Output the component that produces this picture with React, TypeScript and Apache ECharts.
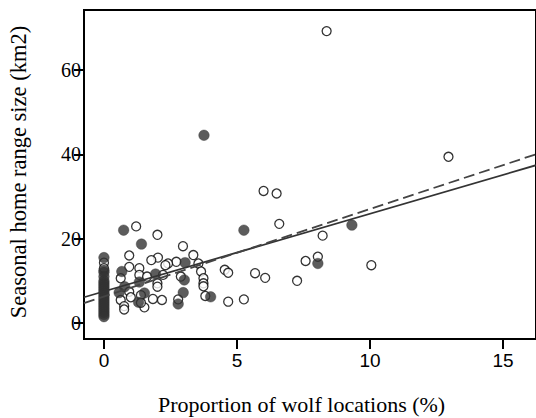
import React, { useEffect, useRef } from "react";
import * as echarts from "echarts";

// Open circles (one group)
const openPoints: [number, number][] = [
  [8.37, 69.2], [12.95, 39.4], [6.0, 31.3], [6.49, 30.7], [6.59, 23.5], [8.22, 20.7],
  [7.58, 14.7], [8.04, 15.7], [10.05, 13.7], [7.26, 10.0], [5.68, 11.8], [6.06, 10.7],
  [4.54, 12.6], [4.67, 11.9], [4.67, 5.05], [5.26, 5.6], [3.36, 16.1], [2.97, 18.2],
  [3.55, 14.1], [3.65, 12.2], [3.74, 10.6], [3.74, 9.4], [3.74, 8.7], [3.81, 6.4],
  [2.72, 14.5], [2.41, 14.1], [2.89, 11.0], [2.79, 5.6], [1.21, 22.9], [2.01, 20.9],
  [0.95, 16.0], [2.03, 15.5], [1.78, 14.9], [0.95, 13.3], [1.33, 13.0], [2.31, 13.7],
  [0.63, 10.6], [1.33, 11.4], [1.62, 11.0], [2.22, 11.4], [2.01, 9.4], [2.01, 8.6],
  [0.95, 7.4], [0.63, 5.45], [0.76, 4.0], [0.76, 3.2], [1.01, 6.1], [1.39, 6.6],
  [1.84, 5.7], [2.18, 5.45], [1.52, 3.7], [1.39, 4.8], [0, 14.3], [0, 13.0],
];

// Filled circles (other group)
const filledPoints: [number, number][] = [
  [0, 15.5], [0, 12.5], [0, 12.0], [0, 11.0], [0, 10.0], [0, 9.5], [0, 9.0], [0, 8.5],
  [0, 8.0], [0, 7.5], [0, 7.0], [0, 6.5], [0, 6.0], [0, 5.5], [0, 5.0], [0, 4.5],
  [0, 4.0], [0, 3.5], [0, 3.0], [0, 2.5], [0, 2.0], [0, 1.5],
  [0.74, 22.0], [1.41, 18.7], [0.67, 12.2], [1.33, 9.7], [0.57, 7.2], [0.78, 8.6],
  [1.52, 7.1], [1.3, 4.9], [1.94, 11.6], [3.05, 14.3], [3.02, 10.2], [2.98, 7.2],
  [2.79, 4.5], [4.01, 6.2], [5.26, 22.0], [8.04, 14.1], [9.32, 23.2], [3.76, 44.5],
];

// Fit lines (end points)
const solidFit: [number, number][] = [[-0.75, 6.1], [16.24, 37.4]];
const dashedFit: [number, number][] = [[-0.75, 4.7], [16.24, 40.0]];

const xTicks = [0, 5, 10, 15];
const yTicks = [0, 20, 40, 60];

const xTitle = "Proportion of wolf locations (%)";
const yTitle = "Seasonal home range size (km2)";

export default function App() {
  const ref = useRef<HTMLDivElement>(null);
  useEffect(() => {
    if (!ref.current) return;
    const chart = echarts.init(ref.current, undefined, { renderer: "svg" });
    chart.setOption({
      animation: false,
      backgroundColor: "#fff",
      grid: {
        left: 84,
        top: 10,
        right: 0,
        bottom: 79,
        show: true,
        borderColor: "#000",
        borderWidth: 2,
      },
      xAxis: {
        type: "value",
        min: -0.75,
        max: 16.24,
        splitLine: { show: false },
        axisLine: { show: true, onZero: false, lineStyle: { color: "#000", width: 2 } },
        axisTick: { show: true, customValues: xTicks, length: 10, lineStyle: { color: "#000", width: 2 } },
        axisLabel: {
          customValues: xTicks,
          color: "#000",
          fontFamily: "Liberation Sans",
          fontSize: 19,
          margin: 12,
        },
      },
      yAxis: {
        type: "value",
        min: -3.8,
        max: 74.2,
        splitLine: { show: false },
        axisLine: { show: true, onZero: false, lineStyle: { color: "#000", width: 2 } },
        axisTick: { show: true, customValues: yTicks, length: 10, lineStyle: { color: "#000", width: 2 } },
        axisLabel: {
          customValues: yTicks,
          color: "#000",
          fontFamily: "Liberation Serif",
          fontSize: 20,
          margin: 3,
        },
      },
      graphic: [
        {
          type: "text",
          left: 303 - 145,
          top: 393,
          style: {
            text: xTitle,
            font: "22px 'Liberation Serif'",
            fill: "#000",
          },
        },
        {
          type: "text",
          x: 18,
          y: 172,
          rotation: Math.PI / 2,
          style: {
            text: yTitle,
            font: "22.5px 'Liberation Serif'",
            fill: "#000",
            align: "center",
            verticalAlign: "middle",
          },
        },
      ],
      series: [
        {
          type: "scatter",
          data: openPoints,
          symbol: "circle",
          symbolSize: 9,
          itemStyle: { color: "#fff", borderColor: "#000", borderWidth: 1.3 },
          z: 2,
        },
        {
          type: "scatter",
          data: filledPoints,
          symbol: "circle",
          symbolSize: 10.5,
          itemStyle: { color: "#333", borderColor: "#333", borderWidth: 0.5 },
          z: 3,
        },
        {
          type: "line",
          data: solidFit,
          showSymbol: false,
          symbol: "none",
          lineStyle: { color: "#333", width: 1.8, type: "solid" },
          z: 4,
        },
        {
          type: "line",
          data: dashedFit,
          showSymbol: false,
          symbol: "none",
          lineStyle: { color: "#444", width: 1.8, type: [11, 5] },
          z: 4,
        },
      ],
    });
    return () => chart.dispose();
  }, []);
  return (
    <div
      ref={ref}
      style={{ position: "absolute", left: 0, top: 0, width: 536, height: 418 }}
    />
  );
}
